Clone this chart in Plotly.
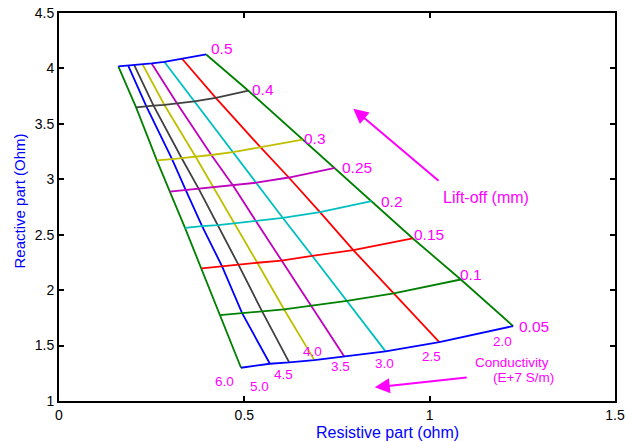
import plotly.graph_objects as go

# Conductivity (E+7 S/m) columns, lift-off (mm) rows
conductivity = ["2.0", "2.5", "3.0", "3.5", "4.0", "4.5", "5.0", "6.0"]
liftoff = ["0.05", "0.1", "0.15", "0.2", "0.25", "0.3", "0.4", "0.5"]

# Resistive part (ohm)
X = [
    [1.225, 1.026, 0.881, 0.770, 0.689, 0.621, 0.569, 0.491],
    [1.084, 0.903, 0.777, 0.680, 0.607, 0.548, 0.494, 0.434],
    [0.954, 0.794, 0.683, 0.600, 0.535, 0.484, 0.440, 0.385],
    [0.843, 0.704, 0.604, 0.531, 0.473, 0.429, 0.386, 0.340],
    [0.745, 0.620, 0.532, 0.469, 0.418, 0.377, 0.342, 0.299],
    [0.657, 0.544, 0.469, 0.411, 0.369, 0.331, 0.305, 0.264],
    [0.511, 0.423, 0.365, 0.319, 0.284, 0.255, 0.236, 0.208],
    [0.397, 0.332, 0.284, 0.250, 0.225, 0.203, 0.187, 0.160],
]
# Reactive part (Ohm)
Y = [
    [1.676, 1.531, 1.448, 1.399, 1.369, 1.348, 1.336, 1.300],
    [2.096, 1.970, 1.904, 1.858, 1.827, 1.808, 1.793, 1.775],
    [2.468, 2.361, 2.310, 2.267, 2.247, 2.230, 2.215, 2.196],
    [2.802, 2.703, 2.651, 2.624, 2.607, 2.586, 2.577, 2.561],
    [3.102, 3.016, 2.969, 2.947, 2.929, 2.914, 2.903, 2.889],
    [3.358, 3.287, 3.245, 3.219, 3.201, 3.190, 3.182, 3.171],
    [3.799, 3.734, 3.702, 3.682, 3.672, 3.664, 3.656, 3.649],
    [4.126, 4.087, 4.060, 4.045, 4.039, 4.030, 4.024, 4.018],
]

liftoff_colors = ["#0000FF", "#008000", "#FF0000", "#00BFBF", "#BF00BF", "#BFBF00", "#404040", "#0000FF"]
cond_colors = ["#008000", "#FF0000", "#00BFBF", "#BF00BF", "#BFBF00", "#404040", "#0000FF", "#008000"]

# label positions (data coords, centre of text)
liftoff_label_x = [1.281, 1.111, 0.998, 0.898, 0.804, 0.691, 0.550, 0.440]
liftoff_label_y = [1.676, 2.144, 2.505, 2.802, 3.108, 3.369, 3.811, 4.180]
cond_label_x = [1.197, 1.004, 0.879, 0.759, 0.683, 0.607, 0.541, 0.447]
cond_label_y = [1.534, 1.405, 1.342, 1.315, 1.448, 1.243, 1.129, 1.174]

MAG = "#FF00FF"
FONT = "Liberation Sans, Arial, sans-serif"

fig = go.Figure()

# conductivity lines
for j, c in enumerate(conductivity):
    fig.add_trace(go.Scatter(
        x=[X[i][j] for i in range(len(liftoff))],
        y=[Y[i][j] for i in range(len(liftoff))],
        mode="lines", line=dict(color=cond_colors[j], width=1.8),
        showlegend=False, hoverinfo="skip"))

# lift-off lines
for i, l in enumerate(liftoff):
    fig.add_trace(go.Scatter(
        x=X[i], y=Y[i], mode="lines",
        line=dict(color=liftoff_colors[i], width=1.8),
        showlegend=False, hoverinfo="skip"))

ann = []
for i, l in enumerate(liftoff):
    ann.append(dict(x=liftoff_label_x[i], y=liftoff_label_y[i], text=l,
                    showarrow=False, xanchor="center", yanchor="middle",
                    font=dict(color=MAG, size=15.5, family=FONT)))
for j, c in enumerate(conductivity):
    ann.append(dict(x=cond_label_x[j], y=cond_label_y[j], text=c,
                    showarrow=False, xanchor="center", yanchor="middle",
                    font=dict(color=MAG, size=13.5, family=FONT)))

ann.append(dict(x=1.153, y=2.838, text="Lift-off (mm)", showarrow=False,
                font=dict(color=MAG, size=16, family=FONT)))
ann.append(dict(x=1.222, y=1.351, text="Conductivity", showarrow=False,
                font=dict(color=MAG, size=13.5, family=FONT)))
ann.append(dict(x=1.254, y=1.212, text="(E+7 S/m)", showarrow=False,
                font=dict(color=MAG, size=13.5, family=FONT)))

# arrows
ann.append(dict(x=0.794, y=3.637, ax=1.028, ay=2.976, axref="x", ayref="y",
                xref="x", yref="y", text="", showarrow=True, arrowhead=2,
                arrowsize=1.5, arrowwidth=2, arrowcolor=MAG))
ann.append(dict(x=0.852, y=1.123, ax=1.104, ay=1.2135, axref="x", ayref="y",
                xref="x", yref="y", text="", showarrow=True, arrowhead=2,
                arrowsize=1.5, arrowwidth=2, arrowcolor=MAG))

# axis titles
ann.append(dict(x=0.886, y=0, xref="x", yref="paper", yshift=-31,
                text="Resistive part (ohm)", showarrow=False,
                xanchor="center", yanchor="middle",
                font=dict(color="#0000FF", size=16, family=FONT)))
ann.append(dict(x=0, y=2.80, xref="paper", yref="y", xshift=-40,
                text="Reactive part (Ohm)", showarrow=False, textangle=-90,
                xanchor="center", yanchor="middle",
                font=dict(color="#0000FF", size=15, family=FONT)))

axis_common = dict(showgrid=False, zeroline=False, showline=True, linecolor="black",
                   linewidth=2, mirror="ticks", ticks="inside", ticklen=5,
                   tickcolor="black", tickwidth=1.5, automargin=False,
                   tickfont=dict(color="black", size=14, family=FONT))

fig.update_layout(
    width=626, height=441,
    margin=dict(l=59, r=11, t=13, b=40),
    plot_bgcolor="white", paper_bgcolor="white",
    xaxis=dict(range=[0, 1.5], tickvals=[0, 0.5, 1, 1.5],
               ticktext=["0", "0.5", "1", "1.5"], **axis_common),
    yaxis=dict(range=[1, 4.5], tickvals=[1, 1.5, 2, 2.5, 3, 3.5, 4, 4.5],
               ticktext=["1", "1.5", "2", "2.5", "3", "3.5", "4", "4.5"], **axis_common),
    annotations=ann,
    showlegend=False,
)

fig.write_html("out.html")
